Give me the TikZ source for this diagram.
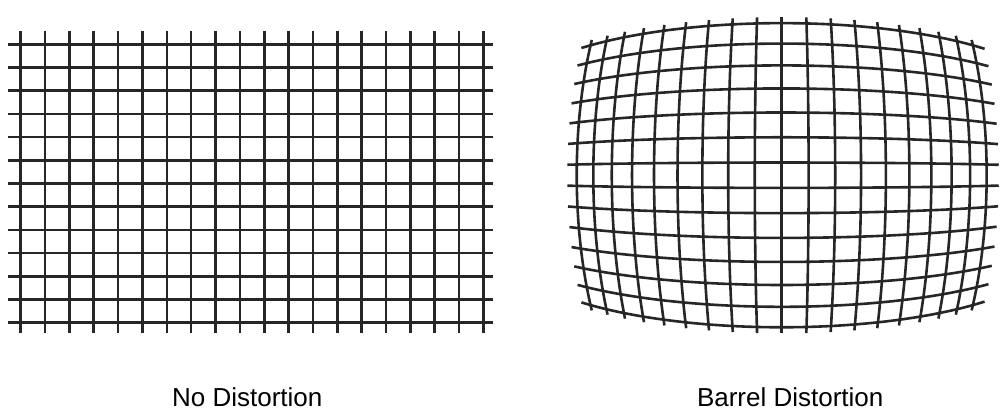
\documentclass[tikz,border=0pt]{standalone}
\usepackage{fontspec}
\setmainfont{Liberation Sans}
\tikzset{
  gridline/.style={line width=2.6pt, black!85},
  caption/.style={font=\fontsize{26}{30}\selectfont, anchor=base, inner sep=0pt},
}
\begin{document}
\begin{tikzpicture}[x=100pt, y=-100pt,
  declare function={bx(\u,\v)=7.817+\u/(1+0.0314*(\u*\u+\v*\v));
                    by(\u,\v)=1.752+\v/(1+0.0314*(\u*\u+\v*\v));}]
\useasboundingbox (0,0) rectangle (10.03,4.12);
% straight grid
\foreach \i in {0,...,19}
  \draw[gridline] ({0.207+\i*0.2435},0.31) -- ({0.207+\i*0.2435},3.33);
\foreach \j in {0,...,12}
  \draw[gridline] (0.083,{0.443+\j*0.232}) -- (4.93,{0.443+\j*0.232});
% barrel grid
\foreach \n in {-9,...,9}
  \draw[gridline] plot[smooth, domain=-1.73:1.73, samples=21, variable=\t]
    ({bx(\n*0.27,\t)},{by(\n*0.27,\t)});
\foreach \m in {-6.5,-5.5,...,6.5}
  \draw[gridline] plot[smooth, domain=-2.6:2.65, samples=25, variable=\t]
    ({bx(\t,\m*0.254)},{by(\t,\m*0.254)});
% captions
\node[caption] (nodist) at (2.473,4.067) {No Distortion};
\node[caption] (barrel) at (7.902,4.067) {Barrel Distortion};
\end{tikzpicture}
\end{document}
